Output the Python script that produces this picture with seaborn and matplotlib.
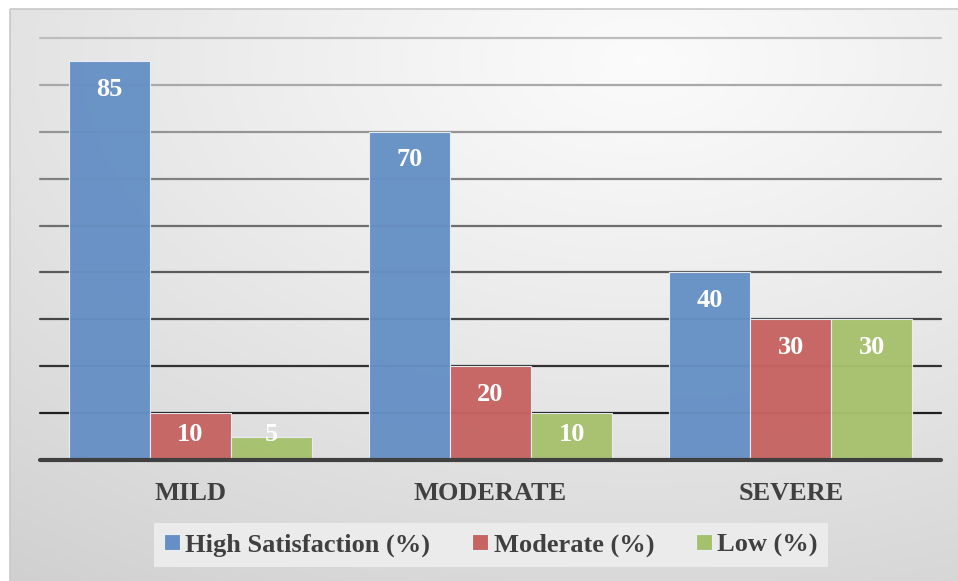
import numpy as np
import pandas as pd
import matplotlib
matplotlib.use("Agg")
import matplotlib.pyplot as plt
import seaborn as sns
from matplotlib.patches import Rectangle, Patch

# Data
categories = ["MILD", "MODERATE", "SEVERE"]
series_names = ["High Satisfaction (%)", "Moderate (%)", "Low (%)"]
high_values = [85, 70, 40]
moderate_values = [10, 20, 30]
low_values = [5, 10, 30]
y_ticks = [10, 20, 30, 40, 50, 60, 70, 80, 90]

df = pd.DataFrame({
    "Severity": categories * 3,
    "Series": [series_names[0]] * 3 + [series_names[1]] * 3 + [series_names[2]] * 3,
    "Value": high_values + moderate_values + low_values,
})

colors = ["#6690c5", "#c66462", "#a6c16d"]
text_dark = "#404040"

sns.set_theme(style="white")
plt.rcParams["font.family"] = ["Liberation Serif", "DejaVu Serif"]
plt.rcParams["font.weight"] = "bold"

W, H = 958, 581
fig = plt.figure(figsize=(W / 100, H / 100), dpi=100)
fig.patch.set_facecolor("white")

# Radial gradient background for the chart area
bg = fig.add_axes([0, 0, 1, 1], zorder=0)
yy, xx = np.mgrid[0:H, 0:W]
cx, cy = 640, 60
d = np.sqrt(((xx - cx) / W) ** 2 + ((yy - cy) / H) ** 2)
d = d / d.max()
shade = 0.985 - 0.17 * d ** 1.1
img = np.dstack([shade, shade, shade])
img[:9, :, :] = 1.0
img[:, :10, :] = 1.0
bg.imshow(img, extent=(0, W, H, 0), aspect="auto", interpolation="bilinear")
bg.add_patch(Rectangle((10, 9), W + 5, H + 5, fill=False, edgecolor="#c8c8c8", lw=1.2))
bg.set_xlim(0, W)
bg.set_ylim(H, 0)
bg.axis("off")

# Plot area
ax = fig.add_axes([40 / W, (H - 460) / H, (941 - 40) / W, (460 - 38) / H], zorder=1)
ax.patch.set_alpha(0)

# Gridlines, lighter toward the top
for t in y_ticks:
    frac = (t - 10) / 80
    g = 0.12 + 0.62 * frac
    ax.axhline(t, color=(g, g, g), lw=1.6, zorder=0, clip_on=False)

sns.barplot(data=df, x="Severity", y="Value", hue="Series", order=categories,
            hue_order=series_names, palette=colors, saturation=1, width=0.81, ax=ax,
            edgecolor="#e8eef5", linewidth=0.8, alpha=0.97, zorder=2,
            legend=False, errorbar=None)

ax.set_ylim(0, 90)
ax.set_xlim(-0.5, 2.5)
ax.axhline(0, color=text_dark, lw=3, zorder=3, clip_on=False)

# Value labels inside the top of each bar
for cont, vals in zip(ax.containers, [high_values, moderate_values, low_values]):
    for bar, v in zip(cont, vals):
        xc = bar.get_x() + bar.get_width() / 2
        yl = max(v - 6.0, 5.4)
        ax.text(xc, yl, f"{v}", ha="center", va="center", color="white",
                fontsize=19, fontweight="bold", zorder=4)

ax.set_xlabel("")
ax.set_ylabel("")
ax.set_yticks([])
ax.tick_params(axis="x", length=0, pad=16, labelsize=19, labelcolor=text_dark)
for lbl in ax.get_xticklabels():
    lbl.set_fontweight("bold")
for s in ax.spines.values():
    s.set_visible(False)

# Legend box
handles = [Patch(facecolor=c, edgecolor="#e8eef5", lw=0.8) for c in colors]
leg = fig.legend(handles, series_names, loc="center", ncol=3,
                 bbox_to_anchor=(491 / W, (H - 545) / H), frameon=True,
                 fancybox=False, facecolor="#ebebeb", edgecolor="none",
                 framealpha=1, prop={"size": 19, "weight": "bold"},
                 handlelength=0.6, handleheight=0.6, handletextpad=0.2,
                 columnspacing=1.6, borderpad=0.4, borderaxespad=0)
leg._legend_box.sep = 5
for t in leg.get_texts():
    t.set_color(text_dark)

fig.savefig("out.png", dpi=100)
